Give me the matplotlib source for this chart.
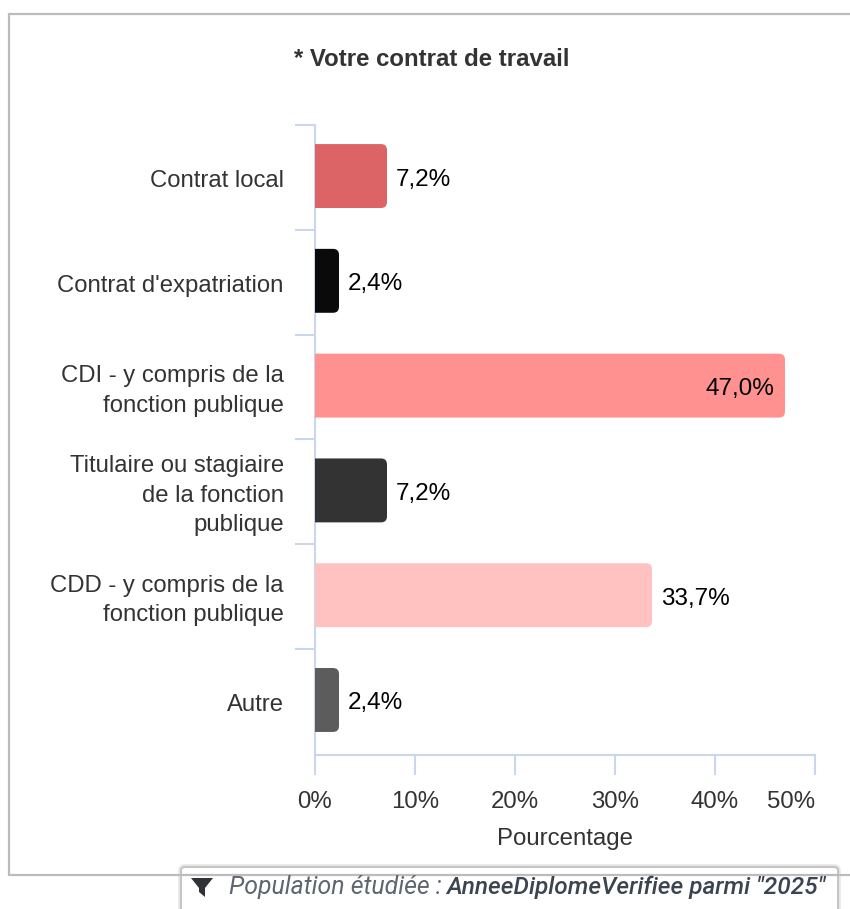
import matplotlib
matplotlib.use('Agg')
from matplotlib import pyplot as plt
from matplotlib.patches import PathPatch, FancyBboxPatch, Polygon
from matplotlib.path import Path

categories = ['Contrat local', "Contrat d'expatriation",
              'CDI - y compris de la\nfonction publique',
              'Titulaire ou stagiaire\nde la fonction\npublique',
              'CDD - y compris de la\nfonction publique', 'Autre']
values = [7.2, 2.4, 47.0, 7.2, 33.7, 2.4]
value_labels = ['7,2%', '2,4%', '47,0%', '7,2%', '33,7%', '2,4%']
colors = ['#dc6466', '#0a0a0a', '#ff9191', '#333333', '#ffc2c0', '#5c5c5c']
xticks = [0, 10, 20, 30, 40, 50]
xticklabels = ['0%', '10%', '20%', '30%', '40%', '50%']

W, H = 850, 909
axis_color = '#ccd6eb'
text_color = '#333333'

plt.rcParams['font.family'] = ['Liberation Sans', 'DejaVu Sans']

fig = plt.figure(figsize=(W / 100, H / 100), dpi=100)
ax = fig.add_axes([315 / W, 1 - 755 / H, 500 / W, 630 / H])
ax.set_xlim(0, 50)
# bars sit a little above the middle of their band
ax.set_ylim(5.525, -0.487)

# overlay in pixel coordinates for the frame and the filter box
over = fig.add_axes([0, 0, 1, 1], zorder=5)
over.set_xlim(0, W)
over.set_ylim(H, 0)
over.axis('off')
over.patch.set_alpha(0)


# bar with only its right corners rounded
def roundedBar(y, value, color, height=0.61):
    rx = 0.6
    ry = 0.057
    top = y - height / 2
    bot = y + height / 2
    verts = [(0, top), (value - rx, top), (value, top), (value, top + ry),
             (value, bot - ry), (value, bot), (value - rx, bot), (0, bot), (0, top)]
    codes = [Path.MOVETO, Path.LINETO, Path.CURVE3, Path.CURVE3,
             Path.LINETO, Path.CURVE3, Path.CURVE3, Path.LINETO, Path.CLOSEPOLY]
    ax.add_patch(PathPatch(Path(verts, codes), facecolor=color, edgecolor='none', zorder=3))


for i, value in enumerate(values):
    roundedBar(i, value, colors[i])
    if value > 40:
        ax.annotate(value_labels[i], (value, i), xytext=(-8, -2.5), textcoords='offset points',
                    ha='right', va='center', fontsize=17.5, color='black', zorder=4)
    else:
        ax.annotate(value_labels[i], (value, i), xytext=(6.5, -2.5), textcoords='offset points',
                    ha='left', va='center', fontsize=17.5, color='black', zorder=4)

for s in ['top', 'right']:
    ax.spines[s].set_visible(False)
for s in ['left', 'bottom']:
    ax.spines[s].set_color(axis_color)
    ax.spines[s].set_linewidth(1.5)

ax.set_xticks(xticks)
ax.set_xticklabels(xticklabels)
ax.tick_params(axis='x', length=14.5, width=1.5, color=axis_color, labelcolor=text_color,
               labelsize=17.3, pad=11.5)
# last label is pulled back inside the plot
ax.get_xticklabels()[-1].set_ha('right')

# category ticks go on the band edges, labels are placed by hand
edges = [-0.487 + k * 1.0 for k in range(6)]
ax.set_yticks(edges)
ax.set_yticklabels([])
ax.tick_params(axis='y', length=14.5, width=1.5, color=axis_color)
for i, cat in enumerate(categories):
    ax.annotate(cat, (0, i), xytext=(-22.5, -3.9), textcoords='offset points', ha='right',
                va='center', fontsize=17.2, color=text_color, linespacing=1.45)

ax.set_xlabel('Pourcentage', fontsize=17.3, color=text_color, labelpad=10.5)

fig.text(294 / W, 1 - 60 / H, '* Votre contrat de travail', fontsize=17.25, fontweight='bold',
         color=text_color, va='center', ha='left')

# outer frame
over.plot([851, 9.5, 9.5, 851], [13.5, 13.5, 875, 875], color='#bcbcbc', lw=1.6,
          solid_joinstyle='miter', clip_on=False)

# filter box, the wide pale edge stands in for the shadow
over.add_patch(FancyBboxPatch((181, 867), 657, 60, boxstyle='round,pad=0,rounding_size=4',
                              facecolor='white', edgecolor='#e6e6e6', lw=4))
over.add_patch(FancyBboxPatch((181, 867), 657, 60, boxstyle='round,pad=0,rounding_size=4',
                              facecolor='white', edgecolor='#c4c4c4', lw=1.4))
over.add_patch(Polygon([(191, 878), (213, 878), (205, 888), (205, 897), (199, 892), (199, 888)],
                       closed=True, facecolor='#2f3338', edgecolor='none'))
over.text(229, 887, 'Population étudiée : ', fontsize=17.9, fontstyle='italic', family='Roboto',
          color='#5f6670', va='center', ha='left')
over.text(446, 887, 'AnneeDiplomeVerifiee parmi "2025"', fontsize=17.55, fontstyle='italic',
          fontweight='medium', family='Roboto', color='#3c4450', va='center', ha='left')

fig.savefig('out.png', dpi=100)
